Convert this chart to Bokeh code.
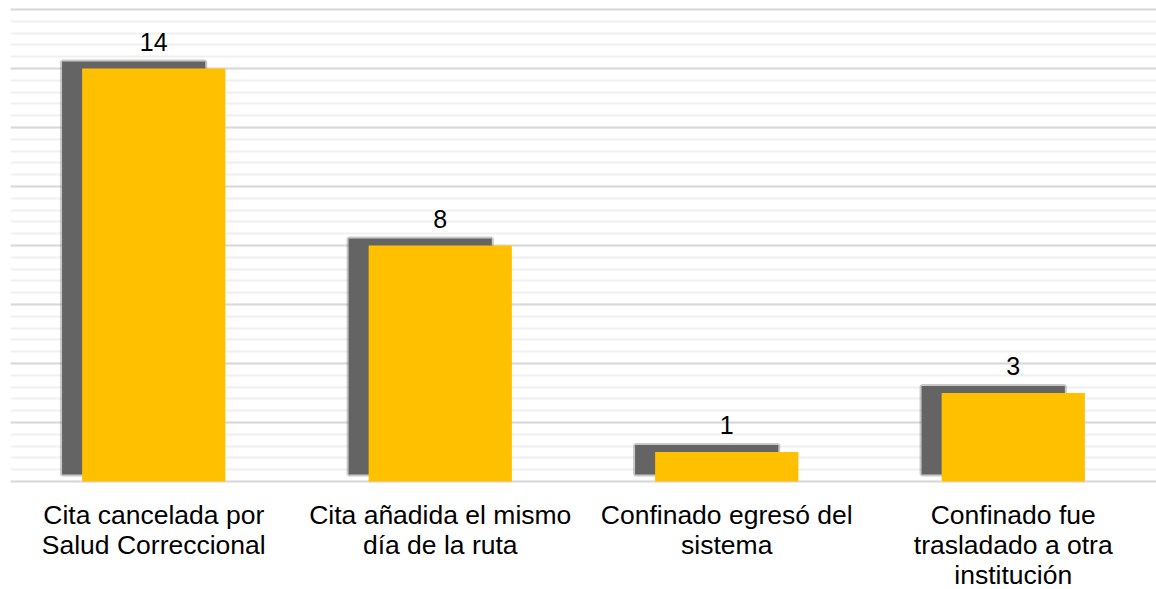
from bokeh.plotting import figure
from bokeh.models import ColumnDataSource, FactorRange, FixedTicker, LabelSet, Range1d
from bokeh.core.properties import value
from bokeh.transform import dodge
from bokeh.embed import file_html
from bokeh.resources import INLINE

categories = ["Cita cancelada por Salud Correccional",
              "Cita añadida el mismo día de la ruta",
              "Confinado egresó del sistema",
              "Confinado fue trasladado a otra institución"]
category_lines = [["Cita cancelada por", "Salud Correccional"],
                  ["Cita añadida el mismo", "día de la ruta"],
                  ["Confinado egresó del", "sistema"],
                  ["Confinado fue", "trasladado a otra", "institución"]]
values = [14, 8, 1, 3]
value_labels = ["14", "8", "1", "3"]

SHADOW_DY = 0.24
src = ColumnDataSource(dict(
    cat=categories, val=values, lab=value_labels,
    stop=[v + SHADOW_DY for v in values],
    sbot=[SHADOW_DY] * len(values),
))

lx, ltxt, loff = [], [], []
for c, lines in zip(categories, category_lines):
    for i, t in enumerate(lines):
        lx.append(c)
        ltxt.append(t)
        loff.append(-(42 + 30 * i))
lsrc = ColumnDataSource(dict(x=lx, y=[0] * len(lx), t=ltxt, off=loff))

p = figure(width=1156, height=589, x_range=FactorRange(*categories, range_padding=0),
           y_range=Range1d(-3.66, 16.07), output_backend="svg", toolbar_location=None,
           min_border_left=10, min_border_right=0, min_border_top=7, min_border_bottom=0)
p.outline_line_color = None
p.background_fill_color = "white"
p.border_fill_color = "white"
p.xaxis.visible = False
p.yaxis.visible = False

ticker = FixedTicker(ticks=list(range(0, 17, 2)),
                     minor_ticks=[i * 0.4 for i in range(0, 41)])
p.ygrid.ticker = ticker
p.ygrid.grid_line_color = "#d9d9d9"
p.ygrid.grid_line_width = 2
p.ygrid.minor_grid_line_color = "#f0f0f0"
p.ygrid.minor_grid_line_width = 2
p.xgrid.grid_line_color = None

# shadow
p.vbar(x=dodge("cat", -0.07, range=p.x_range), top="stop", bottom="sbot", width=0.5,
       source=src, fill_color="#646464", line_color="#646464", line_alpha=0.35, line_width=4)
# bars
p.vbar(x="cat", top="val", bottom=0, width=0.5, source=src,
       fill_color="#FFC000", line_color=None)

labels = LabelSet(x="cat", y="val", text="lab", source=src, y_offset=18,
                  text_align="center", text_baseline="alphabetic",
                  text_font=value("Liberation Sans"), text_font_size="25px", text_color="#000000")
p.add_layout(labels)

cat_labels = LabelSet(x="x", y="y", text="t", source=lsrc, y_offset="off",
                      text_align="center", text_baseline="alphabetic",
                      text_font=value("Liberation Sans"), text_font_size="26.5px",
                      text_color="#000000")
p.add_layout(cat_labels)

open("out.html", "w").write(file_html(p, INLINE))
